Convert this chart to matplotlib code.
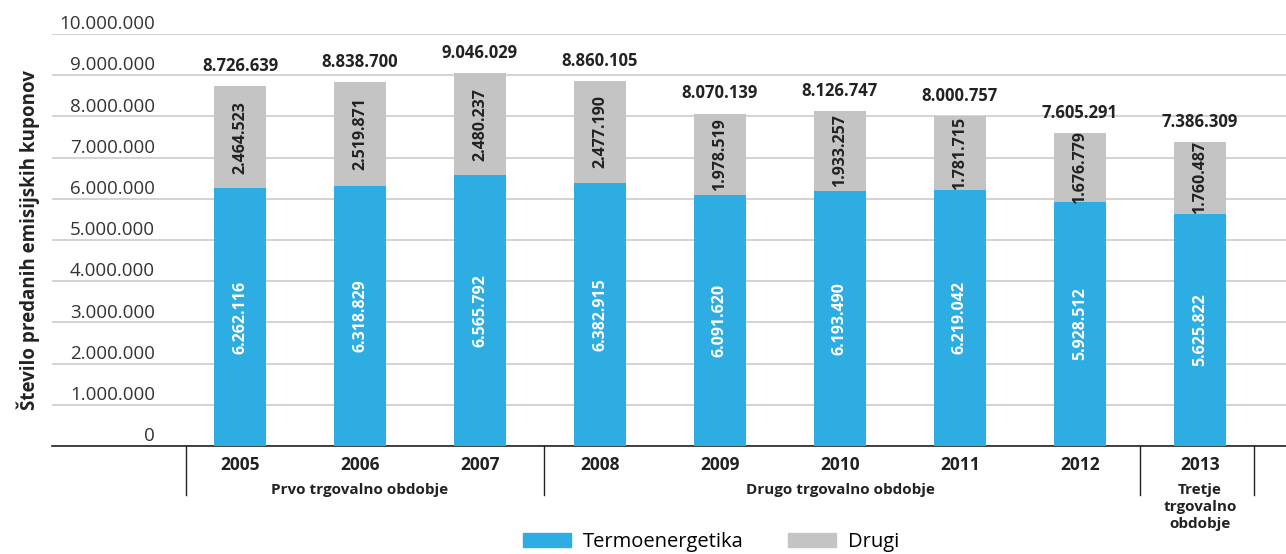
import numpy as np
import matplotlib.pyplot as plt
from matplotlib.patches import Patch

# Data
years = ['2005', '2006', '2007', '2008', '2009', '2010', '2011', '2012', '2013']
termo = [6262116, 6318829, 6565792, 6382915, 6091620, 6193490, 6219042, 5928512, 5625822]
drugi = [2464523, 2519871, 2480237, 2477190, 1978519, 1933257, 1781715, 1676779, 1760487]
totals = [8726639, 8838700, 9046029, 8860105, 8070139, 8126747, 8000757, 7605291, 7386309]
periods = ['Prvo trgovalno obdobje', 'Drugo trgovalno obdobje', 'Tretje\ntrgovalno\nobdobje']
period_span = [(0, 2), (3, 7), (8, 8)]

BLUE = '#2EADE3'
GREY = '#C4C4C4'
TXT = '#222222'

plt.rcParams['font.family'] = ['Open Sans', 'DejaVu Sans']


def fmt(v):
    return f'{v:,}'.replace(',', '.')


fig = plt.figure(figsize=(12.86, 5.54), dpi=100)
ax = fig.add_axes([52 / 1286, 1 - 446 / 554, 1 - 52 / 1286, 412 / 554])

x = np.arange(len(years))
w = 0.44
ax.bar(x, termo, width=w, color=BLUE, zorder=3)
ax.bar(x, drugi, width=w, bottom=termo, color=GREY, zorder=3)

# labels inside and on top of bars
for i in range(len(years)):
    ax.text(x[i], termo[i] / 2, fmt(termo[i]), rotation=90, ha='center', va='center',
            color='white', fontsize=11.5, fontweight='bold', zorder=4)
    ax.text(x[i], termo[i] + drugi[i] / 2, fmt(drugi[i]), rotation=90, ha='center', va='center',
            color=TXT, fontsize=11.5, fontweight='bold', zorder=4)
    ax.annotate(fmt(totals[i]), (x[i], totals[i]), xytext=(0, 8), textcoords='offset points',
                ha='center', va='bottom', fontsize=12, fontweight='bold', color=TXT)

ax.set_xlim(-1.567, 8.717)
ax.set_ylim(0, 10000000)
ticks = np.arange(0, 10000001, 1000000)
ax.set_yticks(ticks)
ax.set_yticklabels([])
ax.tick_params(left=False, bottom=False, labelbottom=False)
ax.grid(axis='y', color='#cccccc', linewidth=1.2, zorder=0)
for s in ['top', 'right', 'left']:
    ax.spines[s].set_visible(False)
ax.spines['bottom'].set_color('#222222')
ax.spines['bottom'].set_linewidth(1.2)

# y tick labels sitting above gridlines
ytr = ax.get_yaxis_transform()
for t in ticks:
    ax.text(0.0835, t + 20000, fmt(int(t)), transform=ytr, ha='right', va='bottom',
            fontsize=13.5, color='#333333')

ax.set_ylabel('Število predanih emisijskih kuponov', fontsize=13.5, fontweight='bold', color=TXT)
ax.yaxis.set_label_coords(-0.010, 0.5)

# year labels and period groups
xtr = ax.get_xaxis_transform()
for i in range(len(years)):
    ax.text(x[i], -0.046, years[i], transform=xtr, ha='center', va='center',
            fontsize=12.5, fontweight='bold', color=TXT)
seps = [-0.45, 2.53, 7.5, 8.45]
for s in seps:
    ax.plot([s, s], [0, -0.12], transform=xtr, color='#222222', lw=1, clip_on=False)
for name, (a, b) in zip(periods, period_span):
    ax.text((a + b) / 2, -0.09, name, transform=xtr, ha='center', va='top',
            fontsize=11, fontweight='bold', color=TXT, linespacing=1.25)

handles = [Patch(color=BLUE, label='Termoenergetika'), Patch(color=GREY, label='Drugi')]
fig.legend(handles=handles, loc='center', bbox_to_anchor=(0.553, 0.022), ncol=2,
           frameon=False, fontsize=14.5, handlelength=2.4, handleheight=0.7,
           columnspacing=2.2, handletextpad=0.6)

fig.savefig('out.png', dpi=100)
